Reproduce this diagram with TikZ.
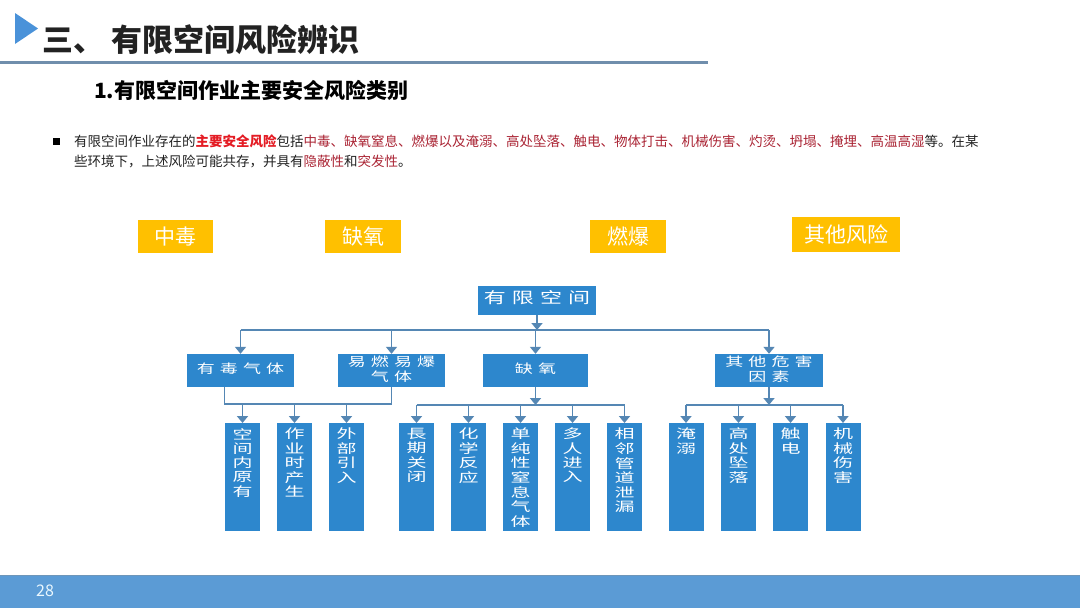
\documentclass[tikz,border=0pt]{standalone}
\usepackage{fontspec}
\setmainfont{Noto Sans CJK SC}
\newfontfamily\treefont{Noto Sans CJK SC}[LetterSpace=28]
\usepackage{graphicx}
\usepackage{xcolor}
\usetikzlibrary{arrows.meta,positioning}

\definecolor{boxblue}{RGB}{45,135,205}
\definecolor{linkblue}{RGB}{85,135,180}
\definecolor{tagyellow}{RGB}{255,192,0}
\definecolor{triblue}{RGB}{74,146,217}
\definecolor{rulegray}{RGB}{112,142,172}
\definecolor{footblue}{RGB}{91,155,213}
\definecolor{footedge}{RGB}{110,150,185}
\definecolor{hired}{RGB}{228,28,36}
\definecolor{darkred}{RGB}{170,36,52}
\definecolor{inkgray}{RGB}{34,34,34}

% squashed stack of lines, as the slide's stretched text
\newcommand{\vstack}[2][0.7]{\scalebox{1}[#1]{\begin{tabular}{@{}c@{}}#2\end{tabular}}}

\begin{document}
\begin{tikzpicture}[x=1pt,y=-1pt,
  tag/.style={fill=tagyellow,text=white,inner sep=0pt,minimum height=33pt,
              font=\fontsize{21}{24}\selectfont},
  box/.style={fill=boxblue,text=white,inner sep=0pt,minimum height=33pt,
              align=center,font=\treefont\fontsize{18}{19}\selectfont},
  leaf/.style={fill=boxblue,anchor=north,inner sep=0pt,
               minimum width=35pt,minimum height=108pt},
  leaftxt/.style={text=white,anchor=north,inner sep=0pt,
                  font=\fontsize{20}{19.5}\selectfont},
  link/.style={draw=linkblue,line width=1.8pt},
  arr/.style={link,-{Triangle[width=11pt,length=7pt]}}
]
\useasboundingbox (0,0) rectangle (1080,608);
\fill[white] (0,0) rectangle (1080,608);
% Header
\fill[triblue] (15,13) -- (38,28.5) -- (15,44) -- cycle;
\node[anchor=base west,inner sep=0pt,text=inkgray,
      font=\bfseries\fontsize{31}{34}\selectfont] (title) at (42,51)
    {三、 有限空间风险辨识};
\draw[rulegray,line width=3pt] (0,62) -- (708,62);
\node[anchor=base west,inner sep=0pt,text=black,
      font=\bfseries\fontsize{21}{24}\selectfont] (sub) at (94,98)
    {1.有限空间作业主要安全风险类别};
% Intro text
\node[fill=black,minimum size=7pt,inner sep=0pt] (dot) at (56,141) {};
\node[anchor=base west,inner sep=0pt,text=inkgray,
      font=\fontsize{13.5}{16}\selectfont] (intro1) at (74,146)
    {有限空间作业存在的\textcolor{hired}{\bfseries 主要安全风险}包括\textcolor{darkred}{中毒、缺氧窒息、燃爆以及淹溺、高处坠落、触电、物体打击、机械伤害、灼烫、坍塌、掩埋、高温高湿}等。在某};
\node[anchor=base west,inner sep=0pt,text=inkgray,
      font=\fontsize{13.5}{16}\selectfont] (intro2) at (74,166)
    {些环境下，上述风险可能共存，并具有\textcolor{darkred}{隐蔽性}和\textcolor{darkred}{突发性}。};
% Risk tags
\node[tag,minimum width=75pt] (t1) at (175,236.5) {中毒};
\node[tag,minimum width=76pt] (t2) at (363,236.5) {缺氧};
\node[tag,minimum width=76pt] (t3) at (628,236.5) {燃爆};
\node[tag,minimum width=108pt,minimum height=35pt] (t4) at (846,234.5) {其他风险};
% Tree: root and second row
\node[box,minimum width=118pt,minimum height=29pt,
      font=\treefont\fontsize{22}{24}\selectfont] (root) at (537,300) {\vstack{有限空间}};
\node[box,minimum width=107pt] (m1) at (240.5,370.5) {\vstack{有毒气体}};
\node[box,minimum width=107pt] (m2) at (391.5,370.5) {\vstack{易燃易爆\\气体}};
\node[box,minimum width=105pt] (m3) at (535.5,370.5) {\vstack{缺氧}};
\node[box,minimum width=108pt] (m4) at (769,370.5) {\vstack{其他危害\\因素}};
% Tree: leaves
\node[leaf] (l1) at (242.5,423) {};
\node[leaf] (l2) at (294.5,423) {};
\node[leaf] (l3) at (346.5,423) {};
\node[leaf] (l4) at (416.5,423) {};
\node[leaf] (l5) at (468.5,423) {};
\node[leaf] (l6) at (520.5,423) {};
\node[leaf] (l7) at (572.5,423) {};
\node[leaf] (l8) at (624.5,423) {};
\node[leaf] (l9) at (686,423) {};
\node[leaf] (l10) at (738.5,423) {};
\node[leaf] (l11) at (790.5,423) {};
\node[leaf] (l12) at (843,423) {};
\node[leaftxt,below=5pt of l1.north] {\vstack[0.64]{空\\间\\内\\原\\有}};
\node[leaftxt,below=5pt of l2.north] {\vstack[0.64]{作\\业\\时\\产\\生}};
\node[leaftxt,below=5pt of l3.north] {\vstack[0.64]{外\\部\\引\\入}};
\node[leaftxt,below=5pt of l4.north] {\vstack[0.64]{長\\期\\关\\闭}};
\node[leaftxt,below=5pt of l5.north] {\vstack[0.64]{化\\学\\反\\应}};
\node[leaftxt,below=5pt of l6.north] {\vstack[0.64]{单\\纯\\性\\窒\\息\\气\\体}};
\node[leaftxt,below=5pt of l7.north] {\vstack[0.64]{多\\人\\进\\入}};
\node[leaftxt,below=5pt of l8.north] {\vstack[0.64]{相\\邻\\管\\道\\泄\\漏}};
\node[leaftxt,below=5pt of l9.north] {\vstack[0.64]{淹\\溺}};
\node[leaftxt,below=5pt of l10.north] {\vstack[0.64]{高\\处\\坠\\落}};
\node[leaftxt,below=5pt of l11.north] {\vstack[0.64]{触\\电}};
\node[leaftxt,below=5pt of l12.north] {\vstack[0.64]{机\\械\\伤\\害}};
% Connectors: root to second row
\coordinate (bus1) at (537,330);
\draw[arr] (root.south) -- (root.south |- bus1);
\draw[link] (m1.north |- bus1) -- (m4.north |- bus1);
\draw[arr] (m1.north |- bus1) -- (m1.north);
\draw[arr] (m2.north |- bus1) -- (m2.north);
\draw[arr] (m3.north |- bus1) -- (m3.north);
\draw[arr] (m4.north |- bus1) -- (m4.north);
% Connectors: gases to sources
\coordinate (bus2) at (225,404);
\draw[link] ([xshift=-16pt]m1.south) |- (m2.south |- bus2) -- (m2.south);
\draw[arr] (l1.north |- bus2) -- (l1.north);
\draw[arr] (l2.north |- bus2) -- (l2.north);
\draw[arr] (l3.north |- bus2) -- (l3.north);
% Connectors: oxygen lack and other hazards
\coordinate (bus3) at (536,405);
\draw[arr] (m3.south) -- (m3.south |- bus3);
\draw[link] (l4.north |- bus3) -- (l8.north |- bus3);
\draw[arr] (l4.north |- bus3) -- (l4.north);
\draw[arr] (l5.north |- bus3) -- (l5.north);
\draw[arr] (l6.north |- bus3) -- (l6.north);
\draw[arr] (l7.north |- bus3) -- (l7.north);
\draw[arr] (l8.north |- bus3) -- (l8.north);
\draw[arr] (m4.south) -- (m4.south |- bus3);
\draw[link] (l9.north |- bus3) -- (l12.north |- bus3);
\draw[arr] (l9.north |- bus3) -- (l9.north);
\draw[arr] (l10.north |- bus3) -- (l10.north);
\draw[arr] (l11.north |- bus3) -- (l11.north);
\draw[arr] (l12.north |- bus3) -- (l12.north);
% Footer
\fill[footblue] (0,575) rectangle (1080,608);
\draw[footedge,line width=1pt] (0,575.5) -- (1080,575.5);
\node[anchor=west,inner sep=0pt,text=cyan!8,
      font=\fontsize{16}{18}\selectfont] (page) at (36,591) {28};
\end{tikzpicture}
\end{document}
